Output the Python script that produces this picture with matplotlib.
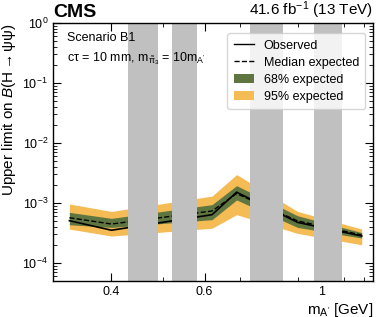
import matplotlib
matplotlib.use('Agg')

import numpy as np
import matplotlib.pyplot as plt
from matplotlib.patches import Patch
from matplotlib.lines import Line2D

plt.rcParams['font.family'] = ['Liberation Sans', 'DejaVu Sans']
plt.rcParams['mathtext.fontset'] = 'custom'
plt.rcParams['mathtext.rm'] = 'Liberation Sans'
plt.rcParams['mathtext.it'] = 'Liberation Sans:italic'
plt.rcParams['mathtext.bf'] = 'Liberation Sans:bold'

# dark photon masses (GeV) and limits
mass = [0.333, 0.40, 0.62, 0.69, 0.90, 1.19]
observed = [5.05e-4, 3.5e-4, 6.36e-4, 1.51e-3, 4.73e-4, 2.8e-4]
expected = [5.66e-4, 4.44e-4, 7.33e-4, 1.43e-3, 5.0e-4, 2.91e-4]
exp_1s_up = [6.95e-4, 5.52e-4, 9.35e-4, 1.94e-3, 6.1e-4, 3.2e-4]
exp_1s_dn = [4.32e-4, 3.9e-4, 5.25e-4, 1.12e-3, 3.9e-4, 2.59e-4]
exp_2s_up = [9.6e-4, 7.2e-4, 1.30e-3, 2.97e-3, 7.2e-4, 3.66e-4]
exp_2s_dn = [3.66e-4, 2.8e-4, 3.78e-4, 6.36e-4, 3.1e-4, 2.0e-4]

# mass windows excluded from the search
veto_lo = [0.43, 0.52, 0.73, 0.965]
veto_hi = [0.49, 0.58, 0.845, 1.09]

green = '#607641'
yellow = '#F5BB54'

fig = plt.figure(figsize=(3.81, 3.17), dpi=100)
ax = fig.add_axes([0.139, 0.114, 0.840, 0.813])

ax.fill_between(mass, exp_2s_dn, exp_2s_up, color=yellow, lw=0, zorder=1)
ax.fill_between(mass, exp_1s_dn, exp_1s_up, color=green, lw=0, zorder=2)
ax.plot(mass, expected, color='black', ls='--', lw=1.0, zorder=3)
ax.plot(mass, observed, color='black', ls='-', lw=1.2, zorder=3)

for lo, hi in zip(veto_lo, veto_hi):
    ax.axvspan(lo, hi, color='#c0c0c0', lw=0, zorder=4)

ax.set_xscale('log')
ax.set_yscale('log')
ax.set_xlim(0.31, 1.25)
ax.set_ylim(5e-5, 1.0)

ax.set_xticks([0.4, 0.6, 1.0])
ax.set_xticklabels(['0.4', '0.6', '1'])
ax.set_xticks([0.5, 0.7, 0.8, 0.9, 1.1, 1.2], minor=True)
ax.xaxis.set_minor_formatter(matplotlib.ticker.NullFormatter())

ax.tick_params(which='both', direction='in', top=True, right=True,
               labelsize=9, zorder=6)
ax.tick_params(which='major', length=6)
ax.tick_params(which='minor', length=3)
for s in ax.spines.values():
    s.set_zorder(6)
    s.set_linewidth(1.0)

ax.set_xlabel(r"m$_{\mathrm{A'}}$ [GeV]", fontsize=11, loc='right', labelpad=2)
ax.set_ylabel(r"Upper limit on $\mathit{B}(\mathrm{H \rightarrow \psi\overline{\psi}})$",
              fontsize=11, loc='top', labelpad=2)

ax.text(0.0, 1.01, 'CMS', transform=ax.transAxes, fontsize=14,
        fontweight='bold', ha='left', va='bottom')
ax.text(1.0, 1.01, r'41.6 fb$^{-1}$ (13 TeV)', transform=ax.transAxes,
        fontsize=11, ha='right', va='bottom')

ax.text(0.045, 0.965, 'Scenario B1', transform=ax.transAxes, fontsize=9,
        ha='left', va='top', zorder=7)
ax.text(0.045, 0.893, r"c$\mathrm{\tau}$ = 10 mm, m$_{\mathrm{\tilde{\pi}_3}}$ = 10m$_{\mathrm{A'}}$",
        transform=ax.transAxes, fontsize=9, ha='left', va='top', zorder=7)

handles = [Line2D([], [], color='black', ls='-', lw=1.0),
           Line2D([], [], color='black', ls='--', lw=1.0),
           Patch(facecolor=green, edgecolor='none'),
           Patch(facecolor=yellow, edgecolor='none')]
labels = ['Observed', 'Median expected', '68% expected', '95% expected']
leg = ax.legend(handles, labels, loc='upper right', fontsize=9,
                bbox_to_anchor=(0.995, 0.985), handlelength=1.6,
                borderpad=0.5, labelspacing=0.4)
leg.set_zorder(8)

plt.savefig('out.png', dpi=100)
